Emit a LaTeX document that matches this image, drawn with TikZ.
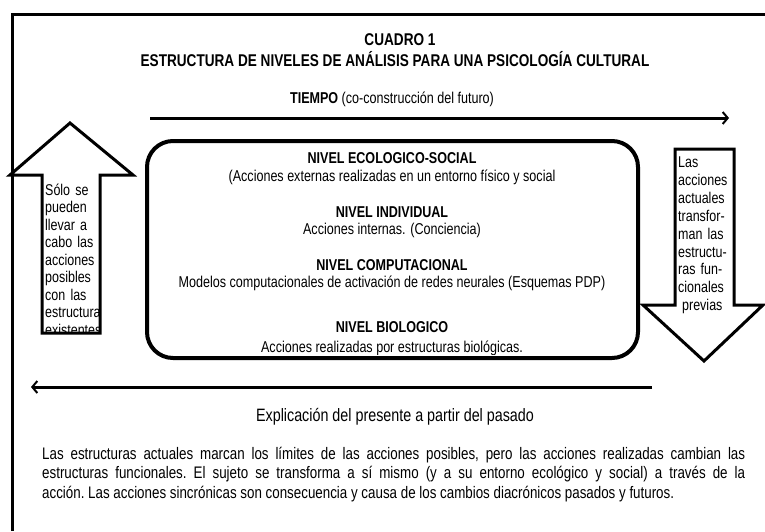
\documentclass[tikz,border=0pt]{standalone}
\usepackage{fontspec}
\setmainfont[FakeStretch=0.8]{Liberation Sans}
\usetikzlibrary{arrows.meta}
\tikzset{
  frameline/.style={line width=3pt},
  bigarrow/.style={line width=3pt, line join=miter},
  timearrow/.style={line width=3pt, -{Straight Barb[length=5pt,width=12pt,line width=2pt]}},
  titletxt/.style={font=\bfseries\fontsize{17}{19}\selectfont, inner sep=0pt},
  lvlhead/.style={font=\bfseries\fontsize{15.7}{17}\selectfont, inner sep=0pt},
  lvltxt/.style={font=\fontsize{15.7}{17}\selectfont, inner sep=0pt},
  sidetxt/.style={inner sep=0pt, text width=70pt, align=left, anchor=base west},
  bodytxt/.style={font=\fontsize{17.5}{19.5}\selectfont, inner sep=0pt},
}
\begin{document}
\begin{tikzpicture}[x=1pt,y=-1pt]
\useasboundingbox (0,0) rectangle (765,531);
% outer frame
\draw[frameline] (12,531) -- (12,14) -- (765,14);
% titles
\node[titletxt] (t1) at (400,40) {CUADRO 1};
\node[titletxt] (t2) at (395,59) {ESTRUCTURA DE NIVELES DE ANÁLISIS PARA UNA PSICOLOGÍA CULTURAL};
% time arrow
\node[lvltxt] (tiempo) at (392,99) {\textbf{TIEMPO} (co-construcción del futuro)};
\coordinate (ta1) at (150,118);
\coordinate (ta2) at (729,118);
\draw[timearrow] (ta1) -- (ta2);
% rounded box
\draw[line width=4pt, rounded corners=26pt] (147,141) rectangle (638,358);
\node[lvlhead] (n1) at (392,158) {NIVEL ECOLOGICO-SOCIAL};
\node[lvltxt] (d1) at (392,177) {(Acciones externas realizadas en un entorno físico y social};
\node[lvlhead] (n2) at (392,212) {NIVEL INDIVIDUAL};
\node[lvltxt] (d2) at (392,230) {Acciones internas. (Conciencia)};
\node[lvlhead] (n3) at (392,265) {NIVEL COMPUTACIONAL};
\node[lvltxt] (d3) at (392,283) {Modelos computacionales de activación de redes neurales (Esquemas PDP)};
\node[lvlhead] (n4) at (392,327) {NIVEL BIOLOGICO};
\begin{scope}
\clip (147,300) rectangle (638,354);
\node[lvltxt, anchor=base] (d4) at (392,352) {Acciones realizadas por estructuras biológicas.};
\end{scope}
% left up arrow
\begin{scope}
\clip (42,176) rectangle (100,333);
\node[sidetxt, font=\fontsize{15.6}{17.5}\selectfont] (lt) at (45,195) {Sólo se\\pueden\\llevar a\\cabo las\\acciones\\posibles\\con las\\estructuras\\existentes};
\end{scope}
\draw[bigarrow] (42,333) -- (42,175) -- (10,175) -- (70,123) -- (133,175) -- (100,175) -- (100,333) -- cycle;
% right down arrow
\begin{scope}
\clip (675,149) rectangle (734,322);
\node[sidetxt, font=\fontsize{15.6}{17.9}\selectfont] (rt) at (678,167.5) {Las\\acciones\\actuales\\transfor-\\man las\\estructu-\\ras fun-\\cionales\\\hspace*{4pt}previas};
\end{scope}
\draw[bigarrow] (675,149) -- (734,149) -- (734,305) -- (763,305) -- (704,361) -- (643,305) -- (675,305) -- cycle;
% past arrow
\coordinate (pa1) at (652,387);
\coordinate (pa2) at (31,387);
\draw[timearrow] (pa1) -- (pa2);
\node[bodytxt, font=\fontsize{17.9}{19.5}\selectfont] (expl) at (395,417) {Explicación del presente a partir del pasado};
\node[bodytxt, font=\fontsize{16.7}{19.5}\selectfont, text width=703pt, align=justify, anchor=base west] (para) at (42,459) {\hyphenpenalty=10000 \frenchspacing Las estructuras actuales marcan los límites de las acciones posibles, pero las acciones realizadas cambian las\linebreak estructuras funcionales. El sujeto se transforma a sí mismo (y a su entorno ecológico y social) a través de la\linebreak acción. Las acciones sincrónicas son consecuencia y causa de los cambios diacrónicos pasados y futuros.};
\end{tikzpicture}
\end{document}
